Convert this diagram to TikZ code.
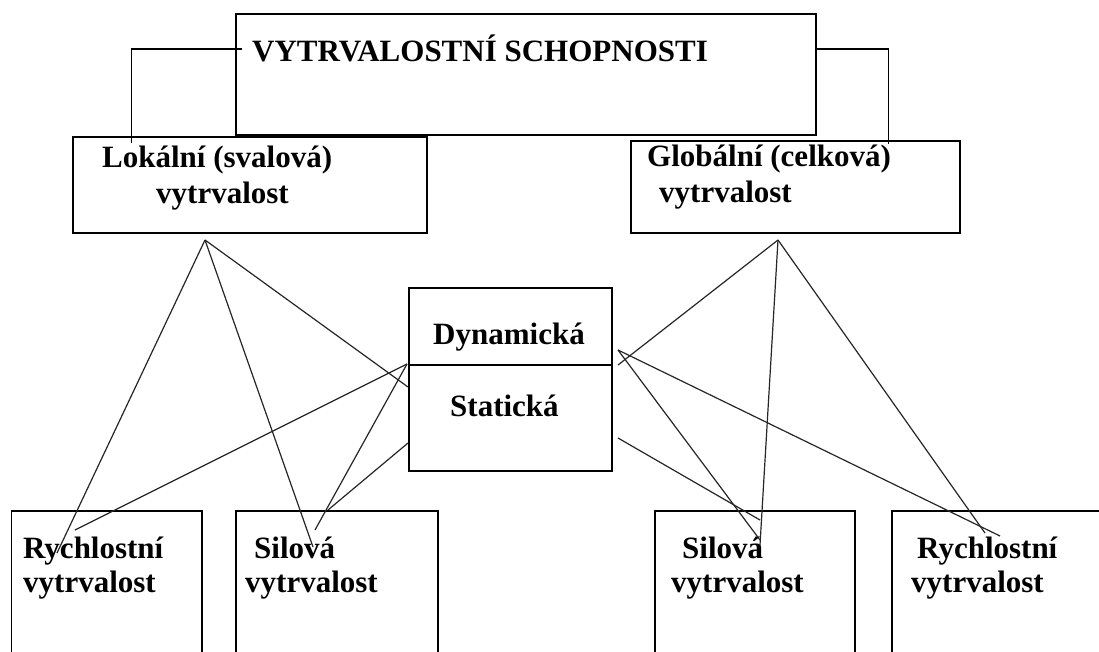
\documentclass[tikz,border=0pt]{standalone}
\usepackage{fontspec}
\setmainfont{Liberation Serif}
\begin{document}
\begin{tikzpicture}[x=1pt,y=-1pt,
  box/.style={draw=black,line width=1.6pt,inner sep=0pt,anchor=north west},
  link/.style={draw=black!85,line width=1.2pt},
  lbl/.style={anchor=base west,inner sep=0pt,font=\fontsize{31}{36}\selectfont\bfseries}]
\useasboundingbox (0,0) rectangle (1099,652);
\clip (0,0) rectangle (1099,652);
\fill[white] (0,0) rectangle (1099,652);

% boxes
\node[box,minimum width=580pt,minimum height=121pt] (top) at (235,13) {};
\node[box,minimum width=354pt,minimum height=96pt] (lok) at (72,136) {};
\node[box,minimum width=329pt,minimum height=92pt] (glob) at (630,140) {};
\node[box,minimum width=203pt,minimum height=183pt] (mid) at (408,287) {};
\draw[line width=1.6pt] ([yshift=14.5pt]mid.west) -- ([yshift=14.5pt]mid.east);
\node[box,minimum width=190.5pt,minimum height=160pt] (rl) at (10.5,510) {};
\node[box,minimum width=202pt,minimum height=160pt] (sl) at (235,510) {};
\node[box,minimum width=200pt,minimum height=160pt] (sr) at (654,510) {};
\node[box,minimum width=230pt,minimum height=160pt] (rr) at (891,510) {};

% labels
\node[lbl] (ttl) at (252,62) {VYTRVALOSTNÍ SCHOPNOSTI};
\node[lbl] (lokA) at (102,168) {Lokální (svalová)};
\node[lbl] (lokB) at (156,204) {vytrvalost};
\node[lbl] (globA) at (647,167) {Globální (celková)};
\node[lbl] (globB) at (659,203) {vytrvalost};
\node[lbl] (dyn) at (433,344) {Dynamická};
\node[lbl] (stat) at (450,416) {Statická};
\node[lbl] (rlA) at (23,558) {Rychlostní};
\node[lbl] (rlB) at (23,592) {vytrvalost};
\node[lbl] (slA) at (254,558) {Silová};
\node[lbl] (slB) at (245,592) {vytrvalost};
\node[lbl] (srA) at (682,558) {Silová};
\node[lbl] (srB) at (671,592) {vytrvalost};
\node[lbl] (rrA) at (917,558) {Rychlostní};
\node[lbl] (rrB) at (911,592) {vytrvalost};

% connector end points
\coordinate (tL) at (242,49);
\coordinate (lokTop) at (131.5,143);
\coordinate (tR) at (815,49);
\coordinate (globTop) at (888.5,144);
\coordinate (lApex) at (205,240);
\coordinate (gApex) at (778,240);
\coordinate (mL1) at (408,387);
\coordinate (mL0) at (407,364);
\coordinate (mL2) at (408,443);
\coordinate (mR0) at (618,365);
\coordinate (mR1) at (618,350);
\coordinate (mR2) at (618,438);
\coordinate (rlP) at (57,553);
\coordinate (rlQ) at (75,530);
\coordinate (slP) at (313,547);
\coordinate (slQ) at (315,530);
\coordinate (slR) at (328,510);
\coordinate (srP) at (760,545);
\coordinate (srQ) at (760,540);
\coordinate (srR) at (760,520);
\coordinate (rrP) at (985,533);
\coordinate (rrQ) at (1000,536);

% connectors
\draw[line width=1.4pt] (tL) -| (lokTop);
\draw[line width=1.4pt] (tR) -| (globTop);
\draw[link] (lApex) -- (rlP);
\draw[link] (lApex) -- (slP);
\draw[link] (lApex) -- (mL1);
\draw[link] (mL0) -- (rlQ);
\draw[link] (mL0) -- (slQ);
\draw[link] (mL2) -- (slR);
\draw[link] (gApex) -- (mR0);
\draw[link] (gApex) -- (srP);
\draw[link] (gApex) -- (rrP);
\draw[link] (mR1) -- (srQ);
\draw[link] (mR1) -- (rrQ);
\draw[link] (mR2) -- (srR);
\end{tikzpicture}
\end{document}
